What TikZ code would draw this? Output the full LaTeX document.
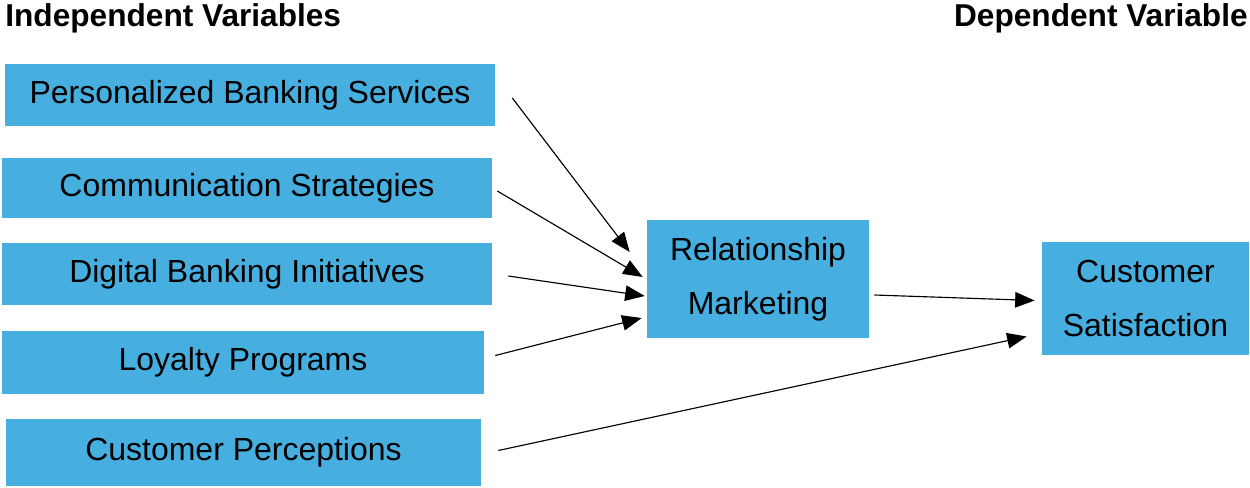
\documentclass[tikz,border=0pt]{standalone}
\usepackage{fontspec}
\setmainfont{Liberation Sans}
\usetikzlibrary{calc,arrows.meta,positioning}
\definecolor{boxblue}{RGB}{71,175,224}
\tikzset{
  varbox/.style={rectangle, fill=boxblue, inner sep=0pt, align=center,
                 font=\fontsize{18.2}{31}\selectfont},
  vartitle/.style={inner sep=0pt, font=\fontsize{18}{22}\selectfont\bfseries},
  link/.style={-{Triangle[length=3.9mm, width=3.1mm]}, line width=0.65pt, black},
}
\begin{document}
\begin{tikzpicture}[x=0.02cm, y=-0.02cm]
  \useasboundingbox (0,0) rectangle (1250,487);
  % headings
  \node[vartitle, anchor=west] (indep) at (5,18) {Independent Variables};
  \node[vartitle, anchor=east] (dep) at (1248,18) {Dependent Variable};
  % independent variables
  \node[varbox, minimum width=9.8cm, minimum height=1.24cm] (pbs) at (250,95) {Personalized Banking Services};
  \node[varbox, minimum width=9.8cm, minimum height=1.2cm] (comm) at (247,188) {Communication Strategies};
  \node[varbox, minimum width=9.8cm, minimum height=1.24cm] (dbi) at (247,274) {Digital Banking Initiatives};
  \node[varbox, minimum width=9.64cm, minimum height=1.26cm] (loyal) at (243,362.5) {Loyalty Programs};
  \node[varbox, minimum width=9.5cm, minimum height=1.34cm] (percep) at (243.5,452.5) {Customer Perceptions};
  % mediator and outcome
  \node[varbox, minimum width=4.44cm, minimum height=2.36cm] (rm) at (758,279) {Relationship\\Marketing};
  \node[varbox, minimum width=4.14cm, minimum height=2.26cm] (csat) at (1145.5,298.5) {Customer\\Satisfaction};
  % links
  \draw[link] ($(pbs.east)+(17,3)$) -- ($(rm.west)+(-17,-27)$);
  \draw[link] ($(comm.east)+(5,3)$) -- ($(rm.west)+(-4,-2)$);
  \draw[link] ($(dbi.east)+(16,2)$) -- ($(rm.west)+(-2,17)$);
  \draw[link] ($(loyal.east)+(11,-7)$) -- ($(rm.west)+(-5,39)$);
  \draw[link] ($(percep.east)+(17,-2)$) -- ($(csat.west)+(-15,38)$);
  \draw[link] ($(rm.east)+(5,16)$) -- ($(csat.west)+(-7,2)$);
\end{tikzpicture}
\end{document}
